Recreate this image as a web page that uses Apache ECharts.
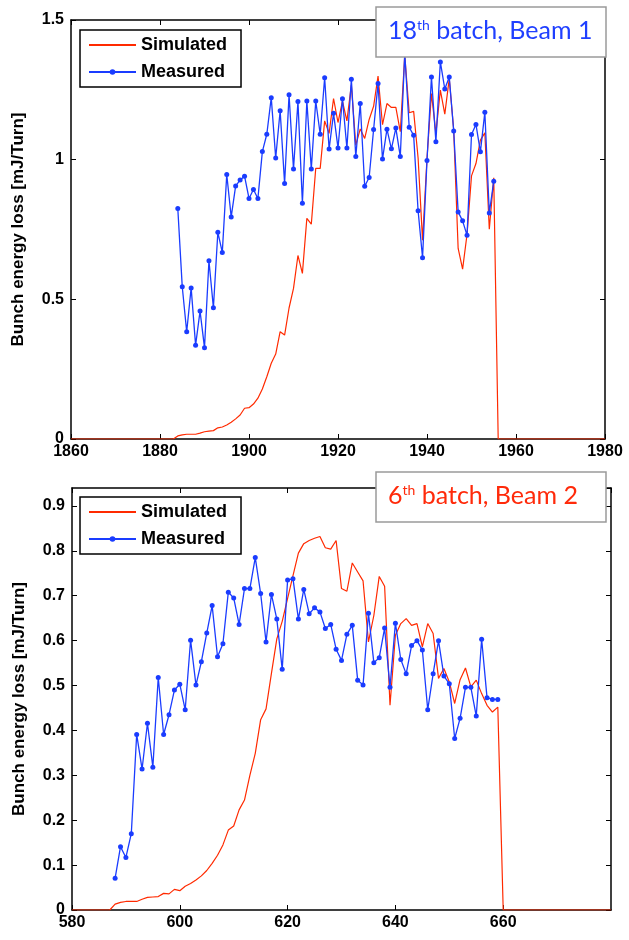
<!DOCTYPE html>
<html><head><meta charset="utf-8">
<script src="https://cdn.jsdelivr.net/npm/echarts@6/dist/echarts.min.js"></script>
<style>html,body{margin:0;padding:0;background:#fff}#c{width:629px;height:940px}</style>
</head><body><div id="c"></div>
<script>
// ---------- Top panel: 18th batch, Beam 1 ----------
const topXRange = [1860, 1980];
const topXInterval = 20;
const topYRange = [0, 1.5];
const topYInterval = 0.5;
const topSimStart = 1883;
const topSimValues = [
  0, 0.011, 0.015, 0.017, 0.017, 0.017, 0.021, 0.026, 0.028, 0.030,
  0.040, 0.043, 0.050, 0.060, 0.072, 0.086, 0.110, 0.112, 0.125, 0.146,
  0.179, 0.223, 0.271, 0.304, 0.384, 0.372, 0.469, 0.539, 0.657, 0.593,
  0.790, 0.769, 0.969, 0.969, 1.139, 1.094, 1.219, 1.133, 1.210, 1.139,
  1.267, 1.052, 1.110, 1.076, 1.144, 1.191, 1.299, 1.125, 1.201, 1.187,
  1.187, 1.100, 1.374, 1.168, 1.173, 1.006, 0.712, 1.004, 1.237, 1.094,
  1.249, 1.163, 1.290, 1.106, 0.682, 0.608, 0.733, 0.942, 0.986, 1.070,
  1.096, 0.751, 0.935, 0
];
const topMeasStart = 1884;
const topMeasValues = [
  0.825, 0.545, 0.384, 0.541, 0.336, 0.458, 0.327, 0.638, 0.470, 0.740,
  0.668, 0.947, 0.795, 0.906, 0.927, 0.941, 0.861, 0.893, 0.861, 1.029,
  1.091, 1.222, 1.006, 1.175, 0.915, 1.232, 0.967, 1.208, 0.844, 1.210,
  0.967, 1.210, 1.091, 1.293, 1.038, 1.166, 1.042, 1.218, 1.042, 1.288,
  1.011, 1.201, 0.905, 0.936, 1.108, 1.273, 1.002, 1.109, 1.039, 1.113,
  1.011, 1.380, 1.116, 1.087, 0.817, 0.649, 0.997, 1.296, 1.064, 1.350,
  1.253, 1.296, 1.103, 0.813, 0.781, 0.729, 1.090, 1.126, 1.028, 1.170,
  0.809, 0.923
];

// ---------- Bottom panel: 6th batch, Beam 2 ----------
const botXRange = [580, 680];
const botXInterval = 20;
const botYRange = [0, 0.94];
const botYInterval = 0.1;
const botSimStart = 587;
const botSimValues = [
  0, 0.013, 0.017, 0.019, 0.019, 0.019, 0.024, 0.028, 0.029, 0.030,
  0.037, 0.036, 0.046, 0.043, 0.053, 0.059, 0.067, 0.076, 0.088, 0.104,
  0.122, 0.145, 0.178, 0.187, 0.223, 0.245, 0.300, 0.349, 0.424, 0.448,
  0.527, 0.604, 0.643, 0.694, 0.745, 0.795, 0.816, 0.823, 0.828, 0.832,
  0.807, 0.804, 0.823, 0.716, 0.710, 0.773, 0.753, 0.733, 0.597, 0.656,
  0.743, 0.721, 0.456, 0.612, 0.638, 0.649, 0.634, 0.638, 0.586, 0.638,
  0.616, 0.516, 0.538, 0.508, 0.460, 0.513, 0.539, 0.497, 0.512, 0.482,
  0.456, 0.441, 0.452, 0
];
const botMeasStart = 588;
const botMeasValues = [
  0.071, 0.141, 0.117, 0.170, 0.391, 0.314, 0.416, 0.318, 0.518, 0.391,
  0.435, 0.490, 0.503, 0.446, 0.601, 0.501, 0.553, 0.617, 0.678, 0.564,
  0.593, 0.708, 0.695, 0.636, 0.716, 0.716, 0.785, 0.705, 0.597, 0.703,
  0.648, 0.536, 0.735, 0.738, 0.648, 0.714, 0.660, 0.673, 0.664, 0.627,
  0.636, 0.581, 0.556, 0.614, 0.634, 0.512, 0.501, 0.661, 0.551, 0.562,
  0.628, 0.496, 0.639, 0.558, 0.526, 0.589, 0.600, 0.579, 0.446, 0.526,
  0.600, 0.521, 0.504, 0.382, 0.427, 0.496, 0.496, 0.432, 0.603, 0.473,
  0.469, 0.469
];

const seriesNames = ['Simulated', 'Measured'];
const yAxisTitle = 'Bunch energy loss [mJ/Turn]';

const RED = '#ff2a00';
const BLUE = '#1a3cff';
const FONT = 'Liberation Sans, Arial, sans-serif';

function pairs(start, vals) { return vals.map((v, i) => [start + i, v]); }
function simPairs(range, start, vals) {
  return [[range[0], 0]].concat(pairs(start, vals)).concat([[range[1], 0]]);
}

function xAxes(gridIndex, range, interval, hideMax) {
  const base = {
    gridIndex, type: 'value', min: range[0], max: range[1], interval,
    axisLine: { show: true, onZero: false, lineStyle: { color: '#000', width: 1.5 } },
    axisTick: { show: true, inside: true, length: 5, lineStyle: { color: '#000', width: 1 } },
    splitLine: { show: false }
  };
  return [
    Object.assign({}, base, { position: 'bottom',
      axisLabel: { show: true, color: '#000', fontFamily: FONT, fontWeight: 'bold', fontSize: 16, margin: 5,
        showMaxLabel: !hideMax, showMinLabel: true, formatter: v => String(v) } }),
    Object.assign({}, base, { position: 'top', axisLabel: { show: false } })
  ];
}
function yAxes(gridIndex, range, interval, nameGap) {
  const base = {
    gridIndex, type: 'value', min: range[0], max: range[1], interval,
    axisLine: { show: true, onZero: false, lineStyle: { color: '#000', width: 1.5 } },
    axisTick: { show: true, inside: true, length: 5, lineStyle: { color: '#000', width: 1 } },
    splitLine: { show: false }
  };
  return [
    Object.assign({}, base, { position: 'left',
      name: yAxisTitle, nameLocation: 'middle', nameGap: nameGap, nameRotate: 90,
      nameTextStyle: { color: '#000', fontFamily: FONT, fontWeight: 'bold', fontSize: 17 },
      axisLabel: { show: true, color: '#000', fontFamily: FONT, fontWeight: 'bold', fontSize: 16, margin: 7,
        showMaxLabel: true, formatter: v => String(+v.toFixed(2)) } }),
    Object.assign({}, base, { position: 'right', axisLabel: { show: false } })
  ];
}

const topX = xAxes(0, topXRange, topXInterval, false);
const botX = xAxes(1, botXRange, botXInterval, true);
const topY = yAxes(0, topYRange, topYInterval, 44);
const botY = yAxes(1, botYRange, botYInterval, 44);
botY[0].axisLabel.showMaxLabel = false;

function legend(top) {
  return {
    left: 80, top: top, orient: 'vertical',
    data: [{ name: seriesNames[0], itemStyle: { opacity: 0 } }, seriesNames[1]],
    backgroundColor: '#fff', borderColor: '#000', borderWidth: 1.5,
    padding: [6, 14, 6, 8], itemGap: 9, itemWidth: 47, itemHeight: 7,
    textStyle: { color: '#000', fontFamily: FONT, fontWeight: 'bold', fontSize: 18 },
    selectedMode: false, z: 20
  };
}

function titleBox(y, num, color, rest) {
  return [
    { type: 'rect', z: 100, shape: { x: 376, y: y, width: 230, height: 50 },
      style: { fill: '#fff', stroke: '#9a9a9a', lineWidth: 1.5 } },
    { type: 'text', z: 101, left: 388, top: y + 11,
      style: {
        text: '{n|' + num + '}{s|th}{n|' + rest + '}',
        rich: {
          n: { fontSize: 25, fontFamily: 'Lato, Open Sans, sans-serif', fill: color, color: color },
          s: { fontSize: 14, fontFamily: 'Lato, Open Sans, sans-serif', fill: color, color: color, padding: [0, 0, 10, 0] }
        }
      } }
  ];
}

const chart = echarts.init(document.getElementById('c'), null, { renderer: 'canvas' });
chart.setOption({
  animation: false,
  backgroundColor: '#fff',
  grid: [
    { left: 71, top: 20, width: 534, height: 419, show: false },
    { left: 72, top: 488, width: 539, height: 422, show: false }
  ],
  xAxis: topX.concat(botX),
  yAxis: topY.concat(botY),
  legend: [legend(30), legend(497)],
  graphic: titleBox(7, '18', '#1f3fff', ' batch, Beam 1').concat(titleBox(472, '6', '#ff2a0a', ' batch, Beam 2')),
  series: [
    { name: 'Simulated', type: 'line', xAxisIndex: 0, yAxisIndex: 0, data: simPairs(topXRange, topSimStart, topSimValues),
      symbol: 'none', lineStyle: { color: RED, width: 1.2 }, itemStyle: { color: RED }, z: 2 },
    { name: 'Measured', type: 'line', xAxisIndex: 0, yAxisIndex: 0, data: pairs(topMeasStart, topMeasValues),
      symbol: 'circle', symbolSize: 5, showAllSymbol: true, lineStyle: { color: BLUE, width: 1.3 }, itemStyle: { color: BLUE }, z: 3 },
    { name: 'Simulated', type: 'line', xAxisIndex: 2, yAxisIndex: 2, data: simPairs(botXRange, botSimStart, botSimValues),
      symbol: 'none', lineStyle: { color: RED, width: 1.2 }, itemStyle: { color: RED }, z: 2 },
    { name: 'Measured', type: 'line', xAxisIndex: 2, yAxisIndex: 2, data: pairs(botMeasStart, botMeasValues),
      symbol: 'circle', symbolSize: 5, showAllSymbol: true, lineStyle: { color: BLUE, width: 1.3 }, itemStyle: { color: BLUE }, z: 3 }
  ]
});
</script></body></html>
